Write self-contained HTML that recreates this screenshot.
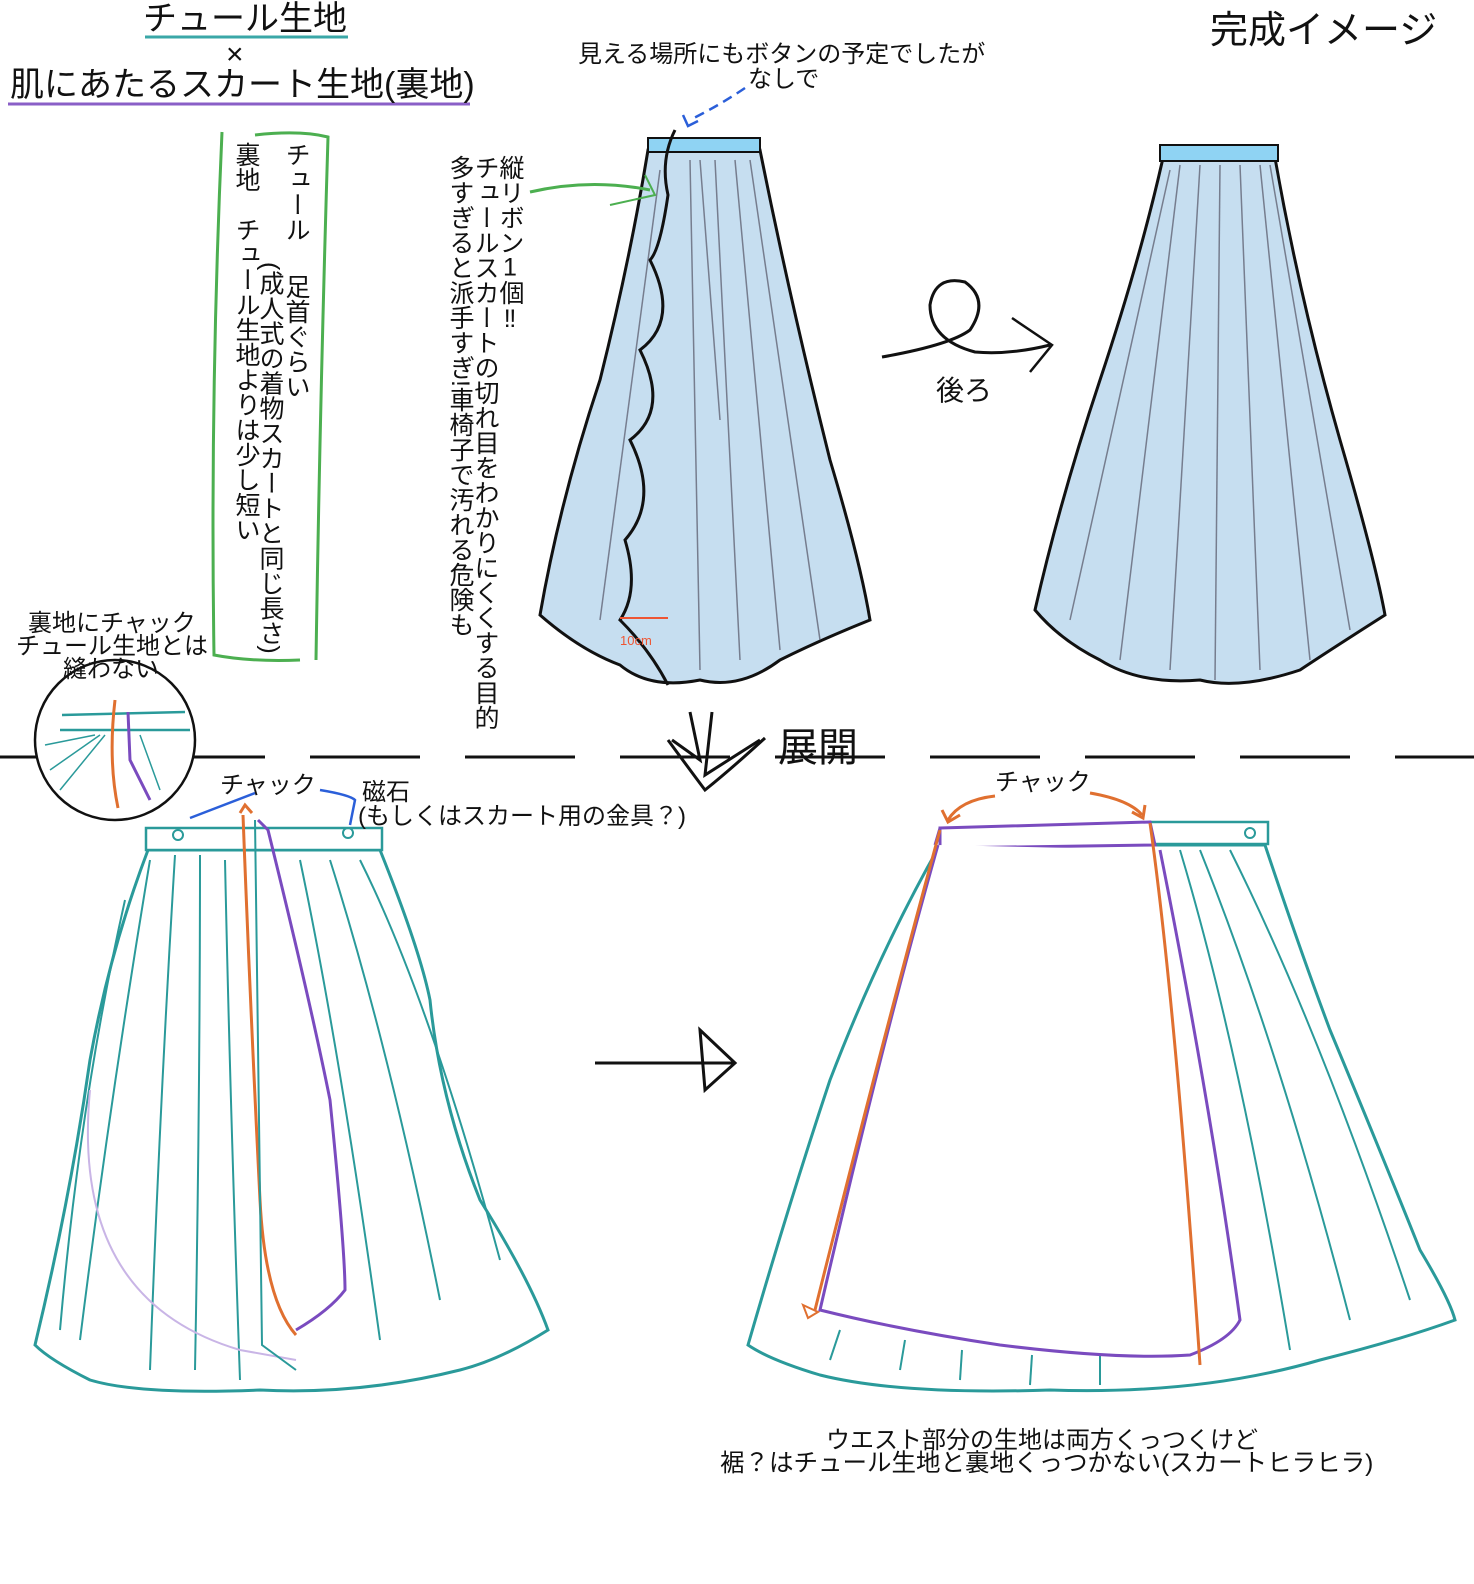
<!DOCTYPE html>
<html><head><meta charset="utf-8"><style>
body{margin:0;width:1474px;height:1584px;background:#fff;position:relative;overflow:hidden;font-family:"Liberation Sans","Noto Sans CJK JP",sans-serif;color:#111}
.t{position:absolute;white-space:nowrap;line-height:1}
.v{position:absolute;writing-mode:vertical-rl;line-height:1;font-size:25px;white-space:nowrap}
svg{position:absolute;left:0;top:0}
</style></head><body>
<svg width="1474" height="1584" viewBox="0 0 1474 1584">
<line x1="145" y1="37" x2="348" y2="37" stroke="#3aa7a7" stroke-width="3"/>
<line x1="8" y1="104" x2="470" y2="104" stroke="#8a5fc7" stroke-width="3"/>
<path d="M222 132 Q210 400 214 655 Q250 662 300 660" fill="none" stroke="#4caf50" stroke-width="3"/>
<path d="M255 135 Q300 130 328 137 Q320 400 316 660" fill="none" stroke="#4caf50" stroke-width="3"/>
<line x1="0" y1="757" x2="1474" y2="757" stroke="#111" stroke-width="3" stroke-dasharray="110 45"/>
<path d="M648 150 L760 150 Q790 300 830 460 Q860 560 870 620 Q820 640 780 660 Q740 690 700 680 Q650 690 620 665 Q580 650 540 615 Q560 500 600 380 Q630 260 648 150Z" fill="#c6def0" stroke="#111" stroke-width="3"/>
<rect x="648" y="138" width="112" height="14" fill="#8fd3f3" stroke="#111" stroke-width="2"/>
<path d="M675 130 Q660 160 668 195 Q660 250 650 260 Q680 320 640 350 Q670 410 630 440 Q660 500 625 540 Q640 590 620 620 Q650 650 668 685" fill="none" stroke="#111" stroke-width="3"/>
<g stroke="#556" stroke-width="1.5" fill="none" opacity=".7">
<path d="M690 160 L700 670"/><path d="M715 160 L740 660"/><path d="M735 160 L780 650"/><path d="M750 160 L820 640"/><path d="M700 160 L720 420"/><path d="M660 170 L600 620"/>
</g>
<path d="M620 618 L668 618" stroke="#e53" stroke-width="2"/>
<text x="620" y="645" font-size="13" fill="#e53" font-family="Liberation Sans">10cm</text>
<path d="M745 88 Q720 105 690 120" fill="none" stroke="#2b5fd9" stroke-width="2.5" stroke-dasharray="10 6"/>
<path d="M683 115 L688 126 L698 121" fill="none" stroke="#2b5fd9" stroke-width="2.5"/>
<path d="M530 192 Q590 178 650 190" fill="none" stroke="#4caf50" stroke-width="3"/>
<path d="M610 205 L655 195 L645 175" fill="none" stroke="#4caf50" stroke-width="2"/>
<path d="M882 357 Q950 345 970 330 Q990 300 965 282 Q935 275 930 305 Q930 340 975 352 Q1010 355 1050 345" fill="none" stroke="#111" stroke-width="3"/>
<path d="M1012 318 L1052 345 L1030 372" fill="none" stroke="#111" stroke-width="2.5"/>
<path d="M1163 158 L1275 158 Q1300 300 1340 440 Q1375 560 1385 615 Q1330 650 1300 670 Q1240 690 1200 680 Q1140 685 1100 660 Q1060 640 1035 610 Q1060 500 1100 380 Q1140 260 1163 158Z" fill="#c6def0" stroke="#111" stroke-width="3"/>
<rect x="1160" y="145" width="118" height="16" fill="#8fd3f3" stroke="#111" stroke-width="2"/>
<g stroke="#556" stroke-width="1.5" fill="none" opacity=".7">
<path d="M1180 165 L1120 660"/><path d="M1200 165 L1170 670"/><path d="M1220 165 L1215 680"/><path d="M1240 165 L1260 670"/><path d="M1260 165 L1310 660"/><path d="M1170 170 L1070 620"/><path d="M1270 165 L1350 630"/>
</g>
<path d="M690 712 L700 760 L672 740 M712 712 L705 775 L760 740" fill="none" stroke="#111" stroke-width="3"/>
<path d="M668 740 Q690 770 705 790 Q730 770 765 738" fill="none" stroke="#111" stroke-width="3"/>
<circle cx="115" cy="740" r="80" fill="#fff" stroke="#111" stroke-width="2.5"/>
<path d="M62 715 L185 712 M60 730 L190 730" stroke="#2a9a9a" stroke-width="2.5"/>
<path d="M115 700 Q108 760 118 808" stroke="#e07030" stroke-width="3" fill="none"/>
<path d="M128 712 L130 760 L150 800" stroke="#7a4bbf" stroke-width="3" fill="none"/>
<g stroke="#2a9a9a" stroke-width="1.5" fill="none"><path d="M105 735 L60 790"/><path d="M100 735 L50 770"/><path d="M95 735 L45 745"/><path d="M140 735 L160 790"/></g>
<path d="M148 850 L380 850 Q420 950 430 1000 Q440 1100 480 1200 Q530 1280 548 1330 Q500 1360 460 1370 Q360 1395 260 1390 Q140 1395 90 1380 Q50 1360 35 1345 Q70 1200 90 1060 Q110 950 148 850Z" fill="#fff" stroke="#2a9a9a" stroke-width="3"/>
<rect x="146" y="828" width="236" height="22" fill="#fff" stroke="#2a9a9a" stroke-width="2.5"/>
<circle cx="178" cy="835" r="5" fill="none" stroke="#2a9a9a" stroke-width="2"/>
<circle cx="348" cy="833" r="5" fill="none" stroke="#2a9a9a" stroke-width="2"/>
<g stroke="#2a9a9a" stroke-width="2" fill="none">
<path d="M175 855 Q160 1100 150 1370"/><path d="M200 855 Q200 1100 195 1370"/><path d="M225 860 Q230 1100 240 1380"/><path d="M300 860 Q340 1050 380 1340"/><path d="M330 860 Q390 1050 440 1300"/><path d="M360 860 Q430 1000 500 1260"/><path d="M150 860 Q110 1100 80 1340"/><path d="M125 900 Q80 1100 60 1330"/>
</g>
<path d="M90 1090 Q70 1300 240 1350 L296 1360" fill="none" stroke="#c9b5e6" stroke-width="2"/>
<path d="M243 815 Q250 1000 260 1200 Q265 1300 296 1335" fill="none" stroke="#e07030" stroke-width="3"/>
<path d="M255 820 L262 1345 L296 1370" fill="none" stroke="#2a9a9a" stroke-width="2"/>
<path d="M258 820 L268 830 Q310 1000 330 1100 Q345 1250 345 1290 Q330 1310 296 1330" fill="none" stroke="#7a4bbf" stroke-width="3"/>
<path d="M240 813 L245 805 L252 813" fill="none" stroke="#e07030" stroke-width="3"/>
<path d="M255 793 L190 818" stroke="#2b5fd9" stroke-width="2.5"/>
<path d="M320 790 Q350 795 355 800 L350 825" fill="none" stroke="#2b5fd9" stroke-width="2.5"/>
<path d="M595 1063 L735 1063 M700 1030 L735 1063 L705 1090 Z" fill="none" stroke="#111" stroke-width="3"/>
<path d="M940 845 L1265 845 Q1300 950 1330 1030 Q1380 1150 1420 1250 Q1450 1300 1455 1320 Q1400 1340 1320 1360 Q1200 1395 1050 1390 Q900 1395 820 1375 Q770 1360 748 1345 Q790 1200 830 1080 Q880 950 940 845Z" fill="#fff" stroke="#2a9a9a" stroke-width="3"/>
<rect x="1150" y="822" width="118" height="22" fill="#fff" stroke="#2a9a9a" stroke-width="2.5"/>
<circle cx="1250" cy="833" r="5" fill="none" stroke="#2a9a9a" stroke-width="2"/>
<g stroke="#2a9a9a" stroke-width="2" fill="none">
<path d="M1180 850 Q1240 1050 1290 1350"/><path d="M1200 850 Q1280 1050 1350 1320"/><path d="M1230 850 Q1320 1030 1410 1300"/><path d="M830 1360 L840 1330"/><path d="M900 1370 L905 1340"/><path d="M960 1380 L962 1350"/><path d="M1030 1385 L1032 1355"/><path d="M1100 1385 L1100 1355"/>
</g>
<path d="M940 828 L1150 822 L1155 845 L940 848 Z M940 828 L935 845" fill="#fff" stroke="#7a4bbf" stroke-width="3"/>
<path d="M938 845 Q880 1050 820 1310 Q900 1330 1000 1345 Q1120 1360 1190 1355 Q1230 1340 1240 1320 Q1210 1100 1160 850" fill="#fff" stroke="#7a4bbf" stroke-width="3"/>
<path d="M940 830 Q880 1050 815 1310" fill="none" stroke="#e07030" stroke-width="3"/>
<path d="M1150 823 Q1175 1000 1200 1365" fill="none" stroke="#e07030" stroke-width="3"/>
<path d="M803 1305 L818 1312 L808 1318 Z" fill="none" stroke="#e07030" stroke-width="2"/>
<path d="M995 796 Q960 800 948 820 M1090 793 Q1130 800 1142 815" fill="none" stroke="#e07030" stroke-width="3"/>
<path d="M942 810 L948 822 L960 815 M1132 812 L1143 818 L1145 805" fill="none" stroke="#e07030" stroke-width="3"/>
</svg>
<div class="t" style="left:143px;top:2px;font-size:34px">チュール生地</div>
<div class="t" style="left:226px;top:40px;font-size:30px">×</div>
<div class="t" style="left:10px;top:68px;font-size:34px">肌にあたるスカート生地(裏地)</div>
<div class="t" style="left:1210px;top:12px;font-size:38px">完成イメージ</div>
<div class="t" style="left:578px;top:43px;font-size:24px">見える場所にもボタンの予定でしたが</div>
<div class="t" style="left:748px;top:68px;font-size:24px">なしで</div>
<div class="v" style="left:283px;top:142px">チュール　 足首ぐらい</div>
<div class="v" style="left:257px;top:262px">(成人式の着物スカートと同じ長さ)</div>
<div class="v" style="left:233px;top:142px">裏地　チュール生地よりは少し短い</div>
<div class="v" style="left:497px;top:155px">縦リボン<span style="text-combine-upright:all">1</span>個‼</div>
<div class="v" style="left:472px;top:155px">チュールスカートの切れ目をわかりにくくする目的</div>
<div class="v" style="left:447px;top:155px">多すぎると派手すぎ!車椅子で汚れる危険も</div>
<div class="t" style="left:936px;top:377px;font-size:28px">後ろ</div>
<div class="t" style="left:778px;top:728px;font-size:40px">展開</div>
<div class="t" style="left:28px;top:612px;font-size:24px">裏地にチャック</div>
<div class="t" style="left:16px;top:635px;font-size:24px">チュール生地とは</div>
<div class="t" style="left:63px;top:658px;font-size:24px">縫わない</div>
<div class="t" style="left:220px;top:774px;font-size:24px">チャック</div>
<div class="t" style="left:362px;top:781px;font-size:24px">磁石</div>
<div class="t" style="left:358px;top:805px;font-size:24px">(もしくはスカート用の金具？)</div>
<div class="t" style="left:995px;top:771px;font-size:24px">チャック</div>
<div class="t" style="left:826px;top:1429px;font-size:24px">ウエスト部分の生地は両方くっつくけど</div>
<div class="t" style="left:720px;top:1452px;font-size:24.5px">裾？はチュール生地と裏地くっつかない(スカートヒラヒラ)</div>
</body></html>
